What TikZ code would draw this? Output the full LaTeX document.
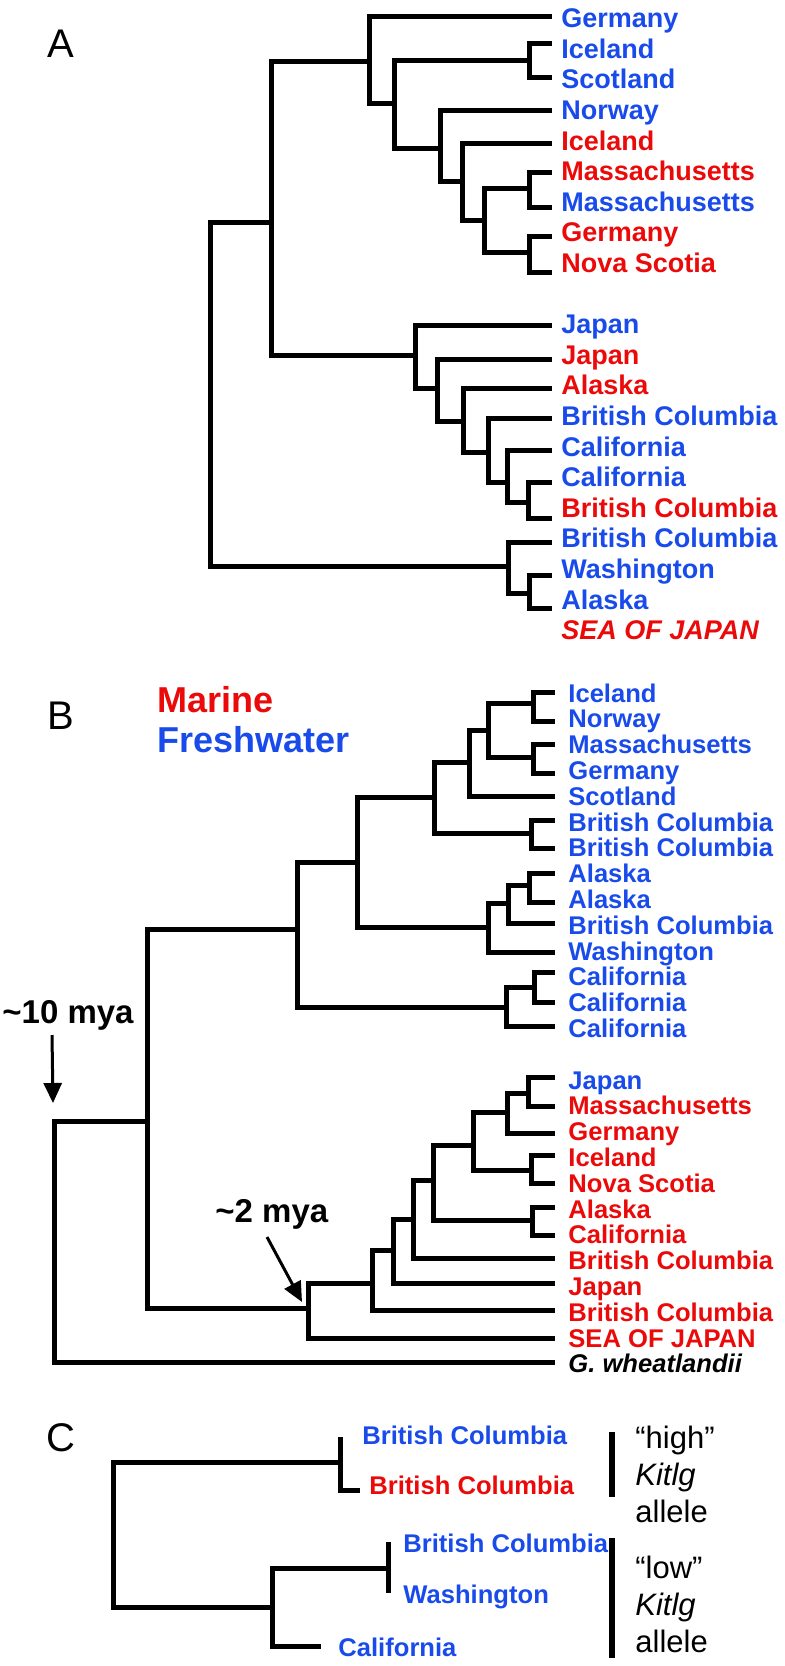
\documentclass[tikz,border=0pt]{standalone}
\usepackage{fontspec}
\setmainfont{Liberation Sans}
\usetikzlibrary{arrows.meta}
\definecolor{cb}{RGB}{25,75,235}
\definecolor{cr}{RGB}{235,10,10}
\begin{document}
\begin{tikzpicture}[x=0.5pt,y=-0.5pt,
  br/.style={line width=2.5pt},
  labA/.style={anchor=base west,inner sep=0pt,font=\fontsize{13.5}{16}\selectfont\bfseries},
  labB/.style={anchor=base west,inner sep=0pt,font=\fontsize{12.8}{15}\selectfont\bfseries},
  panel/.style={anchor=base west,inner sep=0pt,font=\fontsize{20}{24}\selectfont},
  legend/.style={anchor=base west,inner sep=0pt,font=\fontsize{18}{22}\selectfont\bfseries},
  mya/.style={anchor=base west,inner sep=0pt,font=\fontsize{16.5}{20}\selectfont\bfseries},
  allele/.style={anchor=base west,inner sep=0pt,font=\fontsize{15.5}{18}\selectfont},
  arr/.style={line width=1.5pt,-{Triangle[length=10pt,width=9pt]}},
  bar/.style={line width=3.2pt}]
\useasboundingbox (0,0) rectangle (784,1666);

% ---------------- Panel A ----------------
\node[panel] (pA) at (47,57) {A};
\foreach \n/\y in {1/16,2/43,3/77,4/110,5/143,6/172,7/207,8/236,9/272,10/325,11/359,12/388,13/418,14/450,15/482,16/518,17/542,18/575,19/608}
  \coordinate (ta\n) at (552,\y);
\foreach \n/\y/\t/\c in {1/27.7/Germany/cb,2/58.3/Iceland/cb,3/88.9/Scotland/cb,4/119.5/Norway/cb,5/150.1/Iceland/cr,6/180.7/Massachusetts/cr,7/211.3/Massachusetts/cb,8/241.9/Germany/cr,9/272.5/Nova Scotia/cr,10/333.7/Japan/cb,11/364.3/Japan/cr,12/394.9/Alaska/cr,13/425.5/British Columbia/cb,14/456.1/California/cb,15/486.7/California/cb,16/517.3/British Columbia/cr,17/547.9/British Columbia/cb,18/578.5/Washington/cb,19/609.1/Alaska/cb}
  \node[labA,text=\c] (la\n) at (561,\y) {\t};
\node[labA,text=cr,font=\fontsize{13.5}{16}\selectfont\bfseries\itshape] (la20) at (561,639.7) {SEA OF JAPAN};

\coordinate (rA) at (210,394);
\coordinate (nAt) at (271,222);
\coordinate (nA1) at (369,61);
\coordinate (nA2) at (394,103);
\coordinate (nAIS) at (529,60);
\coordinate (nA3) at (440,148);
\coordinate (nA4) at (462,181);
\coordinate (nA5) at (484,220);
\coordinate (nA6) at (529,188);
\coordinate (nA7) at (529,252);
\coordinate (nP1) at (415,355);
\coordinate (nP2) at (437,388);
\coordinate (nP3) at (463,421);
\coordinate (nP4) at (488,452);
\coordinate (nP5) at (507,482);
\coordinate (nP6) at (528,502);
\coordinate (nQ1) at (508,566);
\coordinate (nQ2) at (529,593);
\foreach \p/\c in {rA/nAt,rA/nQ1,nAt/nA1,nAt/nP1,nA1/ta1,nA1/nA2,nA2/nAIS,nA2/nA3,nAIS/ta2,nAIS/ta3,nA3/ta4,nA3/nA4,nA4/ta5,nA4/nA5,nA5/nA6,nA5/nA7,nA6/ta6,nA6/ta7,nA7/ta8,nA7/ta9,nP1/ta10,nP1/nP2,nP2/ta11,nP2/nP3,nP3/ta12,nP3/nP4,nP4/ta13,nP4/nP5,nP5/ta14,nP5/nP6,nP6/ta15,nP6/ta16,nQ1/ta17,nQ1/nQ2,nQ2/ta18,nQ2/ta19}
  \draw[br] (\p) |- (\c);

% ---------------- Panel B ----------------
\node[panel] (pB) at (47,729) {B};
\node[legend,text=cr] (mar) at (157,712) {Marine};
\node[legend,text=cb] (fw) at (157,752) {Freshwater};

\foreach \n/\y in {1/692,2/721,3/744,4/773,5/796,6/820,7/848,8/873,9/902,10/923,11/952,12/972,13/1002,14/1026,15/1077,16/1106,17/1133,18/1155,19/1183,20/1207,21/1235,22/1258,23/1283,24/1310,25/1338,26/1362}
  \coordinate (tb\n) at (555,\y);
\foreach \n/\y/\t/\c in {1/702/Iceland/cb,2/727.8/Norway/cb,3/753.6/Massachusetts/cb,4/779.4/Germany/cb,5/805.2/Scotland/cb,6/831/British Columbia/cb,7/856.8/British Columbia/cb,8/882.6/Alaska/cb,9/908.4/Alaska/cb,10/934.2/British Columbia/cb,11/960/Washington/cb,12/985.8/California/cb,13/1011.6/California/cb,14/1037.4/California/cb,15/1089/Japan/cb,16/1114.8/Massachusetts/cr,17/1140.6/Germany/cr,18/1166.4/Iceland/cr,19/1192.2/Nova Scotia/cr,20/1218/Alaska/cr,21/1243.8/California/cr,22/1269.6/British Columbia/cr,23/1295.4/Japan/cr,24/1321.2/British Columbia/cr,25/1347/SEA OF JAPAN/cr}
  \node[labB,text=\c] (lb\n) at (568,\y) {\t};
\node[labB,font=\fontsize{12.8}{15}\selectfont\bfseries\itshape] (lb26) at (568,1372.8) {G. wheatlandii};

\coordinate (rB) at (54,1240);
\coordinate (nBx) at (147,1121);
\coordinate (nBm) at (297,929);
\coordinate (nBj) at (357,862);
\coordinate (nBf) at (434,797);
\coordinate (nBd) at (469,762);
\coordinate (nBc) at (488,730);
\coordinate (nBa) at (533,703);
\coordinate (nBb) at (533,757);
\coordinate (nBe) at (531,833);
\coordinate (nBi) at (488,927);
\coordinate (nBh) at (508,903);
\coordinate (nBg) at (529,885);
\coordinate (nBl) at (506,1007);
\coordinate (nBk) at (534,987);
\coordinate (nBw) at (308,1308);
\coordinate (nBv) at (372,1283);
\coordinate (nBu) at (393,1250);
\coordinate (nBt) at (413,1219);
\coordinate (nBs) at (433,1180);
\coordinate (nBq) at (473,1145);
\coordinate (nBo) at (507,1112);
\coordinate (nBn) at (528,1093);
\coordinate (nBp) at (531,1170);
\coordinate (nBr) at (532,1220);
\foreach \p/\c in {rB/nBx,rB/tb26,nBx/nBm,nBx/nBw,nBm/nBj,nBm/nBl,nBj/nBf,nBj/nBi,nBf/nBd,nBf/nBe,nBd/nBc,nBd/tb5,nBc/nBa,nBc/nBb,nBa/tb1,nBa/tb2,nBb/tb3,nBb/tb4,nBe/tb6,nBe/tb7,nBi/nBh,nBi/tb11,nBh/nBg,nBh/tb10,nBg/tb8,nBg/tb9,nBl/nBk,nBl/tb14,nBk/tb12,nBk/tb13,nBw/nBv,nBw/tb25,nBv/nBu,nBv/tb24,nBu/nBt,nBu/tb23,nBt/nBs,nBt/tb22,nBs/nBq,nBs/nBr,nBq/nBo,nBq/nBp,nBo/nBn,nBo/tb17,nBn/tb15,nBn/tb16,nBp/tb18,nBp/tb19,nBr/tb20,nBr/tb21}
  \draw[br] (\p) |- (\c);

\node[mya] (m10) at (2,1023) {\textasciitilde10 mya};
\coordinate (m10s) at (52,1035);
\coordinate (m10e) at (53,1103);
\draw[arr] (m10s) -- (m10e);
\node[mya] (m2) at (215,1222) {\textasciitilde2 mya};
\coordinate (m2s) at (267,1237);
\coordinate (m2e) at (302,1302);
\draw[arr] (m2s) -- (m2e);

% ---------------- Panel C ----------------
\node[panel] (pC) at (46,1451) {C};
\node[labB,text=cb] (lc1) at (362,1444) {British Columbia};
\node[labB,text=cr] (lc2) at (369,1494) {British Columbia};
\node[labB,text=cb] (lc3) at (403,1552) {British Columbia};
\node[labB,text=cb] (lc4) at (403,1603) {Washington};
\node[labB,text=cb] (lc5) at (338,1656) {California};

\coordinate (rC) at (113,1530);
\coordinate (nCa) at (340,1462);
\coordinate (nCc) at (272,1607);
\coordinate (nCb) at (388,1568);
\coordinate (tc1) at (340,1437);
\coordinate (tc2) at (360,1490);
\coordinate (tc3) at (388,1542);
\coordinate (tc4) at (388,1593);
\coordinate (tc5) at (321,1646);
\foreach \p/\c in {rC/nCa,rC/nCc,nCa/tc2,nCc/nCb,nCc/tc5}
  \draw[br] (\p) |- (\c);
\draw[br] (nCa) -- (tc1);
\draw[br] (nCb) -- (tc3);
\draw[br] (nCb) -- (tc4);

\coordinate (b1t) at (612,1432);
\coordinate (b1b) at (612,1497);
\coordinate (b2t) at (612,1538);
\coordinate (b2b) at (612,1658);
\draw[bar] (b1t) -- (b1b);
\draw[bar] (b2t) -- (b2b);

\node[allele] (h1) at (635,1448) {“high”};
\node[allele,font=\fontsize{15.5}{18}\selectfont\itshape] (h2) at (635,1485) {Kitlg};
\node[allele] (h3) at (635,1522) {allele};
\node[allele] (l1) at (635,1578) {“low”};
\node[allele,font=\fontsize{15.5}{18}\selectfont\itshape] (l2) at (635,1615) {Kitlg};
\node[allele] (l3) at (635,1652) {allele};
\end{tikzpicture}
\end{document}
